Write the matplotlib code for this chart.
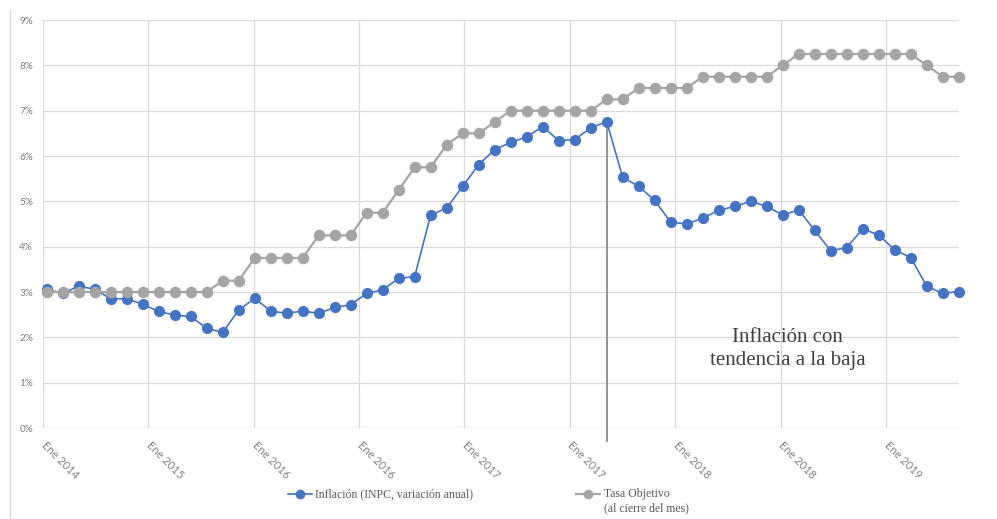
import matplotlib
matplotlib.use("Agg")
import matplotlib.pyplot as plt
import matplotlib.transforms as mtransforms
from matplotlib.lines import Line2D
import numpy as np

inflacion = [3.06, 2.97, 3.13, 3.06, 2.85, 2.85, 2.73, 2.57, 2.49, 2.46,
             2.20, 2.11, 2.60, 2.86, 2.58, 2.53, 2.58, 2.53, 2.66, 2.72,
             2.97, 3.05, 3.30, 3.34, 4.70, 4.85, 5.33, 5.81, 6.14, 6.30,
             6.42, 6.65, 6.34, 6.36, 6.62, 6.76, 5.53, 5.33, 5.02, 4.54,
             4.50, 4.63, 4.80, 4.89, 5.00, 4.89, 4.70, 4.81, 4.36, 3.91,
             3.98, 4.39, 4.26, 3.93, 3.76, 3.13, 2.97, 3.01]
tasa_objetivo = [3.00, 3.00, 3.00, 3.00, 3.00, 3.00, 3.00, 3.00, 3.00, 3.00,
                 3.00, 3.25, 3.25, 3.75, 3.75, 3.75, 3.75, 4.25, 4.25, 4.25,
                 4.75, 4.75, 5.25, 5.75, 5.75, 6.25, 6.50, 6.50, 6.75, 7.00,
                 7.00, 7.00, 7.00, 7.00, 7.00, 7.25, 7.25, 7.50, 7.50, 7.50,
                 7.50, 7.75, 7.75, 7.75, 7.75, 7.75, 8.00, 8.25, 8.25, 8.25,
                 8.25, 8.25, 8.25, 8.25, 8.25, 8.00, 7.75, 7.75]

tick_pos = [-0.23, 6.35, 12.96, 19.52, 26.11, 32.68, 39.27, 45.89, 52.46]
tick_labels = ["Ene 2014", "Ene 2015", "Ene 2016", "Ene 2016", "Ene 2017",
               "Ene 2017", "Ene 2018", "Ene 2018", "Ene 2019"]
y_ticks = [0, 1, 2, 3, 4, 5, 6, 7, 8, 9]
pico_idx = 35  # month where the trend turns

AZUL = "#4472C4"
GRIS = "#A5A5A5"
GRID = "#D9D9D9"
TXT = "#7F7F7F"
SERIF = ["Liberation Serif", "DejaVu Serif"]

W, H = 997, 519
fig = plt.figure(figsize=(W / 100, H / 100), dpi=100)
ax = fig.add_axes([43 / W, (H - 428) / H, (959 - 43) / W, (428 - 20) / H])

x = np.arange(len(inflacion))

# marker line from the peak down past the axis
ax.plot([pico_idx, pico_idx], [inflacion[pico_idx], -0.29], color="#8C8C8C",
        lw=1.3, clip_on=False, zorder=2)
ax.plot(x, inflacion, color=AZUL, lw=1.2, marker="o", ms=7, mec=AZUL,
        clip_on=False, zorder=3)
ax.plot(x, tasa_objetivo, color=GRIS, lw=1.6, marker="o", ms=7.3, mec=GRIS,
        clip_on=False, zorder=4)

ax.set_xlim(-0.23, 57.02)
ax.set_ylim(0, 9)
ax.set_yticks(y_ticks)
ax.set_yticklabels([f"{v}%" for v in y_ticks], fontsize=7.2, color=TXT,
                   family=["Lato", "DejaVu Sans"])
ax.set_xticks(tick_pos)
ax.set_xticklabels(tick_labels, rotation=-45, ha="left", va="center",
                   rotation_mode="anchor", fontsize=8, color=TXT,
                   family=["Lato", "DejaVu Sans"])
offset = mtransforms.ScaledTranslation(3 / 100, 0, fig.dpi_scale_trans)
for lab in ax.get_xticklabels():
    lab.set_transform(lab.get_transform() + offset)
ax.tick_params(axis="both", length=0)
ax.tick_params(axis="y", pad=7)
ax.tick_params(axis="x", pad=11)
ax.grid(True, color=GRID, lw=0.9)
ax.set_axisbelow(True)
for s in ax.spines.values():
    s.set_visible(False)
ax.axhline(0, color=GRID, lw=0.9, zorder=1)

ax.text(46.3, 1.74, "Inflación con\ntendencia a la baja", ha="center",
        va="center", fontsize=15, color="#404040", family=SERIF,
        linespacing=1.3)

# legend drawn by hand to keep the two-line label aligned like the original
def fx(px):
    return px / W

def fy(py):
    return 1 - py / H

fig.add_artist(Line2D([fx(288), fx(312)], [fy(494), fy(494)], color=AZUL,
                      lw=1.2, transform=fig.transFigure))
fig.add_artist(Line2D([fx(300)], [fy(494)], color=AZUL, marker="o", ms=6,
                      transform=fig.transFigure))
fig.text(fx(315), fy(494), "Inflación (INPC, variación anual)", fontsize=8.5,
         color="#595959", family=SERIF, va="center", ha="left")
fig.add_artist(Line2D([fx(576), fx(600)], [fy(494), fy(494)], color=GRIS,
                      lw=1.6, transform=fig.transFigure))
fig.add_artist(Line2D([fx(588)], [fy(494)], color=GRIS, marker="o", ms=6,
                      transform=fig.transFigure))
fig.text(fx(604), fy(494), "Tasa Objetivo", fontsize=8.5, color="#595959",
         family=SERIF, va="center", ha="left")
fig.text(fx(604), fy(508), "(al cierre del mes)", fontsize=8.5,
         color="#595959", family=SERIF, va="center", ha="left")

# chart area border on the left
fig.add_artist(Line2D([fx(10), fx(10)], [fy(10), 0], color=GRID, lw=1,
                      transform=fig.transFigure))

fig.savefig("out.png", dpi=100)
